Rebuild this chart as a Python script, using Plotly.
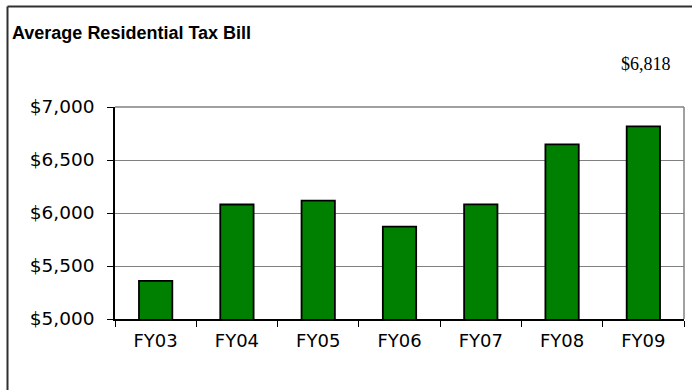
import plotly.graph_objects as go

categories = ["FY03", "FY04", "FY05", "FY06", "FY07", "FY08", "FY09"]
values = [5360, 6080, 6116, 5871, 6082, 6648, 6818]
y_ticks = [5000, 5500, 6000, 6500, 7000]
y_tick_labels = ["$5,000", "$5,500", "$6,000", "$6,500", "$7,000"]
title_text = "Average Residential Tax Bill"

W, H = 692, 390
L, R, T, B = 115, 8, 107, 71
pw, ph = W - L - R, H - T - B

def px_x(x):
    return (x - L) / pw

def px_y(y):
    return (H - B - y) / ph

fig = go.Figure()
fig.add_trace(go.Bar(
    x=categories, y=values,
    marker=dict(color="#008000", line=dict(color="black", width=1.8)),
    width=0.41,
))

fig.update_layout(
    width=W, height=H,
    margin=dict(l=L, r=R, t=T, b=B),
    paper_bgcolor="white", plot_bgcolor="white",
    showlegend=False,
    font=dict(family="DejaVu Sans", size=18, color="black"),
)
fig.update_xaxes(
    showline=True, linecolor="black", linewidth=1.5,
    ticks="outside", tickson="boundaries", ticklen=6, tickcolor="black", tickwidth=1,
    showgrid=False, ticklabelstandoff=5,
    tickfont=dict(family="DejaVu Sans", size=18),
)
fig.update_yaxes(
    range=[5000, 7000], tickvals=y_ticks, ticktext=y_tick_labels,
    showline=True, linecolor="black", linewidth=1.5,
    ticks="outside", ticklen=6, tickcolor="black", tickwidth=1,
    showgrid=True, gridcolor="#808080", gridwidth=1.2,
    zeroline=False, ticklabelstandoff=9,
    tickfont=dict(family="DejaVu Sans", size=18.5),
)

# plot-area border (top and right), gray
fig.add_shape(type="line", xref="paper", yref="paper", x0=0, x1=1, y0=1, y1=1,
              line=dict(color="#808080", width=1.5))
fig.add_shape(type="line", xref="paper", yref="paper", x0=1, x1=1, y0=0, y1=1,
              line=dict(color="#808080", width=1.5))
# outer frame (only left and top edges fall inside the picture)
fig.add_shape(type="line", xref="paper", yref="paper",
              x0=px_x(7.5), x1=px_x(7.5), y0=px_y(390), y1=px_y(6.5),
              line=dict(color="#303030", width=2), layer="below")
fig.add_shape(type="line", xref="paper", yref="paper",
              x0=px_x(7.5), x1=px_x(692), y0=px_y(6.5), y1=px_y(6.5),
              line=dict(color="#303030", width=2), layer="below")

fig.add_annotation(text=title_text, xref="paper", yref="paper",
                   x=px_x(10), y=px_y(33), xanchor="left", yanchor="middle",
                   showarrow=False,
                   font=dict(family="Liberation Sans", size=18, color="black", weight="bold"))
fig.add_annotation(text=f"${values[-1]:,}", xref="x", yref="paper",
                   x=categories[-1], y=px_y(64), xanchor="center", yanchor="middle",
                   showarrow=False, xshift=3,
                   font=dict(family="Liberation Serif", size=18, color="black"))

fig.write_html("out.html")
